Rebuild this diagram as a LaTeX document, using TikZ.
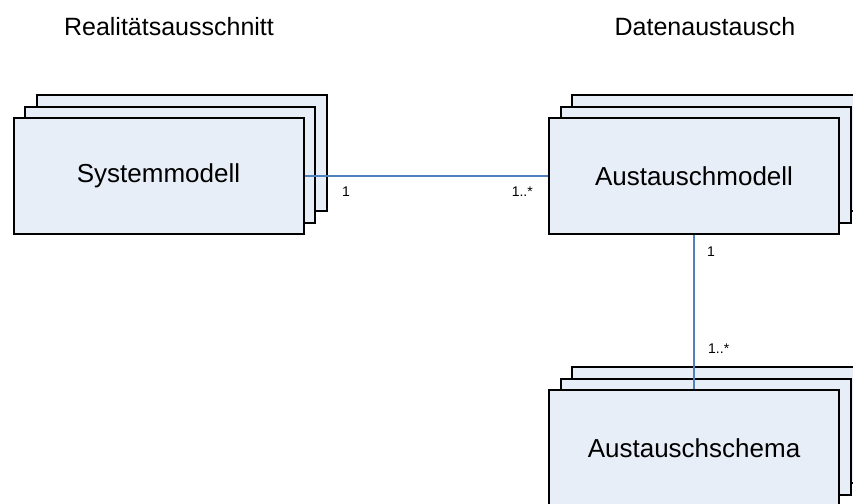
\documentclass[tikz,border=0pt]{standalone}
\usepackage{fontspec}
\setmainfont{Liberation Sans}
\definecolor{boxfill}{RGB}{232,238,247}
\definecolor{connblue}{RGB}{79,129,189}
\tikzset{
  umlbox/.style={draw=black, line width=2pt, fill=boxfill, rectangle,
    minimum width=290pt, minimum height=116pt, inner sep=0pt,
    font=\fontsize{26}{30}\selectfont},
  conn/.style={draw=connblue, line width=1.6pt},
  mult/.style={font=\fontsize{14}{16}\selectfont, inner sep=0pt},
  title/.style={font=\fontsize{25}{30}\selectfont, inner sep=0pt}
}
\begin{document}
\begin{tikzpicture}[x=1pt,y=-1pt]
\useasboundingbox (0,0) rectangle (853,503);
\clip (0,0) rectangle (853,503);
\fill[white] (0,0) rectangle (853,503);
% titles
\node[title] (t1) at (169,27) {Realitätsausschnitt};
\node[title] (t2) at (705,27) {Datenaustausch};
% Systemmodell stack
\node[umlbox] (sysB) at (181.5,153) {};
\node[umlbox] (sysM) at (170,164.5) {};
\node[umlbox] (sys) at (158.5,176) {Systemmodell};
% Austauschmodell stack
\node[umlbox] (aumB) at (717,153) {};
\node[umlbox] (aumM) at (705.5,164.5) {};
\node[umlbox] (aum) at (694,176) {Austauschmodell};
% Austauschschema stack
\node[umlbox] (ausB) at (717,425) {};
\node[umlbox] (ausM) at (705.5,436.5) {};
\node[umlbox] (aus) at (694,448) {Austauschschema};
% connectors
\draw[conn] (sys.east) -- (aum.west);
\draw[conn] (aum.south) -- (aus.north);
% multiplicities
\node[mult] (m1) at (346,192) {1};
\node[mult, anchor=east] (m2) at (533,192) {1..*};
\node[mult] (m3) at (711,252) {1};
\node[mult, anchor=west] (m4) at (708,349) {1..*};
\end{tikzpicture}
\end{document}
